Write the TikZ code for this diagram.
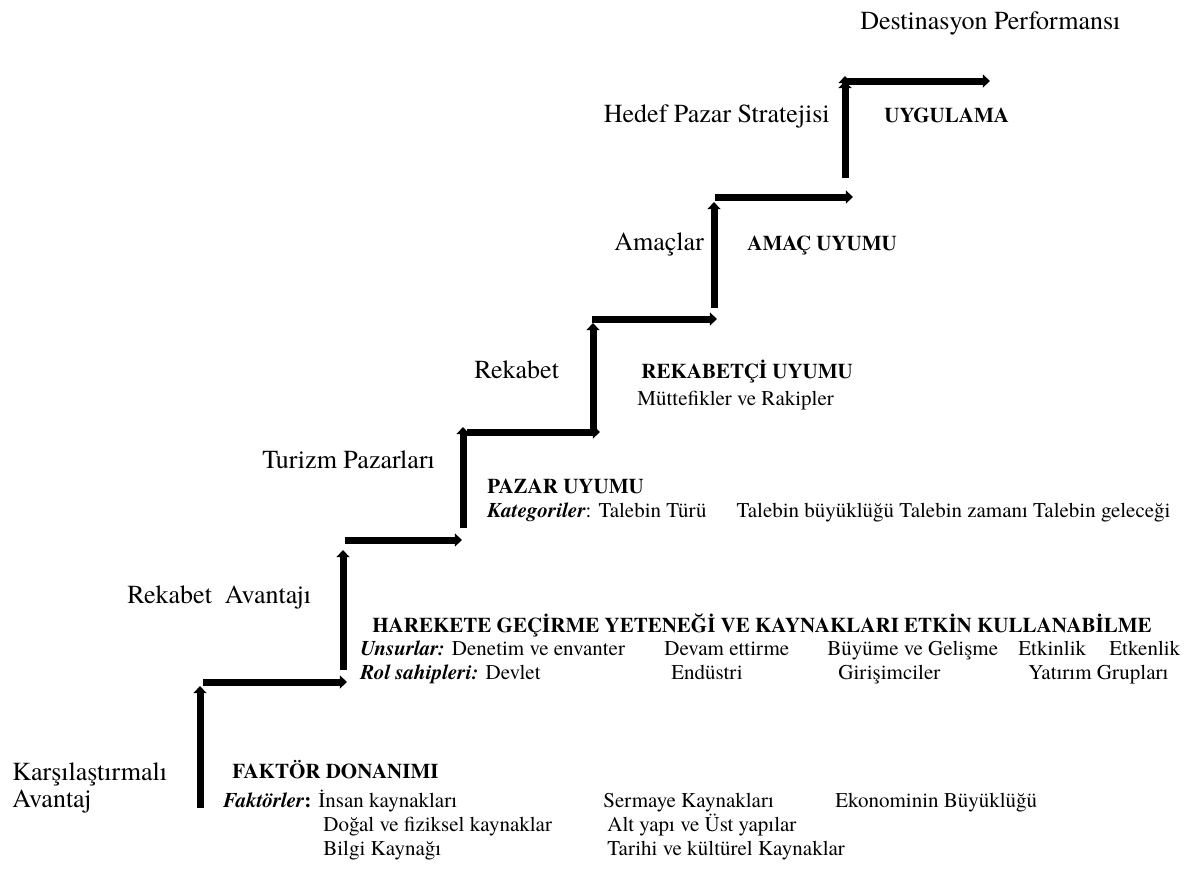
\documentclass[tikz,border=0pt]{standalone}
\usepackage{fontspec}
\setmainfont{texgyretermes}[
    Extension=.otf,
    UprightFont=*-regular,
    BoldFont=*-bold,
    ItalicFont=*-italic,
    BoldItalicFont=*-bolditalic]
\usetikzlibrary{arrows.meta,positioning}
\tikzset{
    %Define standard arrow tip
    >={Triangle[width=6.5pt,length=3.6pt]},
    %Define style for the stair arrows
    stair/.style={
           ->,
           line width=3.5pt,
           draw=black},
    %Define style for the stage labels
    stage/.style={
           font=\fontsize{13}{15}\selectfont,
           inner sep=0pt,
           anchor=base west},
    %Define style for the bold headers
    header/.style={
           font=\fontsize{10.5}{12.5}\selectfont\bfseries,
           inner sep=0pt,
           anchor=base west},
    % Define style for the plain items
    item/.style={
           font=\fontsize{10.5}{12.5}\selectfont,
           inner sep=0pt,
           anchor=base west}
}
\newcommand{\bi}[1]{{\bfseries\itshape #1}}
\begin{document}
\begin{tikzpicture}[x=0.5pt,y=-0.5pt]
\useasboundingbox (0,0) rectangle (1200,868);
 %stair corners
\coordinate (a1) at (200,808); \coordinate (b1) at (200,686);
\coordinate (c1) at (203,682); \coordinate (d1) at (347,682);
\coordinate (a2) at (343,670); \coordinate (b2) at (343,550);
\coordinate (c2) at (345,540); \coordinate (d2) at (462,540);
\coordinate (a3) at (463,528); \coordinate (b3) at (463,427);
\coordinate (c3) at (467,432); \coordinate (d3) at (600,432);
\coordinate (a4) at (593,432); \coordinate (b4) at (593,323);
\coordinate (c4) at (592,319); \coordinate (d4) at (717,319);
\coordinate (a5) at (714,308); \coordinate (b5) at (714,202);
\coordinate (c5) at (715,197); \coordinate (d5) at (853,197);
\coordinate (a6) at (845,178); \coordinate (b6) at (845,76);
\coordinate (c6) at (845,81);  \coordinate (d6) at (990,81);
\path[stair]
    (a1) edge (b1) (c1) edge (d1)
    (a2) edge (b2) (c2) edge (d2)
    (a3) edge (b3) (c3) edge (d3)
    (a4) edge (b4) (c4) edge (d4)
    (a5) edge (b5) (c5) edge (d5)
    (a6) edge (b6) (c6) edge (d6);
 %stage labels
\node[stage](1) at (860,29){Destinasyon Performansı};
\node[stage, anchor=base east](2) at (830,122){Hedef Pazar Stratejisi};
\node[stage](3) at (614,250){Amaçlar};
\node[stage](4) at (474,378){Rekabet};
\node[stage](5) at (262,468){Turizm Pazarları};
\node[stage](6) at (127,603){Rekabet\ \ Avantajı};
\node[stage](7) at (12,780){Karşılaştırmalı};
\node[stage](8) at ([yshift=-13.5pt]7.base west){Avantaj};
 %fit levels
\node[header](9) at (884,122){UYGULAMA};
\node[header](10) at (747,250){AMAÇ UYUMU};
\node[header](11) at (641,378){REKABETÇİ UYUMU};
\node[item](12) at (637,405){Müttefikler ve Rakipler};
\node[header](13) at (487,493){PAZAR UYUMU};
\node[item](14) at (487,517){\bi{Kategoriler}: Talebin Türü\hspace{15pt}Talebin büyüklüğü Talebin zamanı Talebin geleceği};
\node[header](15) at (372,632){HAREKETE GEÇİRME YETENEĞİ VE KAYNAKLARI ETKİN KULLANABİLME};
\node[item](16) at (360,655){\bi{Unsurlar:} Denetim ve envanter};
\node[item](17) at (664,655){Devam ettirme};
\node[item](18) at (827,655){Büyüme ve Gelişme};
\node[item](19) at (1018,655){Etkinlik};
\node[item](20) at (1109,655){Etkenlik};
\node[item](21) at (360,679){\bi{Rol sahipleri:} Devlet};
\node[item](22) at (671,679){Endüstri};
\node[item](23) at (838,679){Girişimciler};
\node[item](24) at (1028,679){Yatırım Grupları};
\node[header](25) at (232,778){FAKTÖR DONANIMI};
\node[item](26) at (223,807){\bi{Faktörler}\textbf{:} İnsan kaynakları};
\node[item](27) at (323,831){Doğal ve fiziksel kaynaklar};
\node[item](28) at ([yshift=-12pt]27.base west){Bilgi Kaynağı};
\node[item](29) at (603,807){Sermaye Kaynakları};
\node[item](30) at (607,831){Alt yapı ve Üst yapılar};
\node[item](31) at ([yshift=-12pt]30.base west){Tarihi ve kültürel Kaynaklar};
\node[item](32) at (835,807){Ekonominin Büyüklüğü};
\end{tikzpicture}
\end{document}
